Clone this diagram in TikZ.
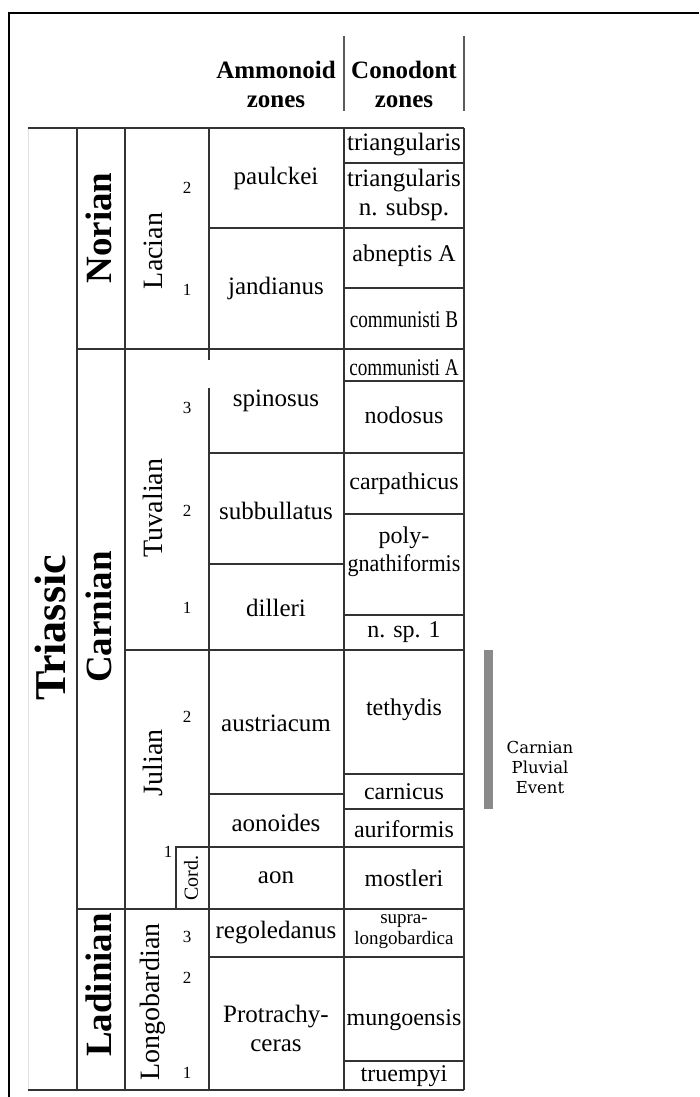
\documentclass[tikz,border=0pt]{standalone}
\usepackage{fontspec}
\setmainfont{Liberation Serif}
\newfontfamily\cpefont{DejaVu Serif}
\usepackage{xcolor}
\definecolor{rule}{HTML}{333333}
\definecolor{cpe}{HTML}{8A8A8A}

\begin{document}
\begin{tikzpicture}[x=1pt,y=-1pt,
		grid/.style={line width=1.4pt, draw=rule},
		zone/.style={font=\fontsize{25}{29}\selectfont, align=center, inner sep=0pt},
		con/.style={zone, font=\fontsize{24}{28}\selectfont},
		stage/.style={font=\fontsize{37}{40}\selectfont\bfseries, rotate=90, inner sep=0pt},
		substage/.style={font=\fontsize{28}{30}\selectfont, rotate=90, inner sep=0pt},
		num/.style={font=\fontsize{17}{19}\selectfont, inner sep=0pt}]
			\useasboundingbox (0,0) rectangle (699,1097);
			\draw[line width=2pt](9,1097)--(9,13)--(699,13);
			% header
			\draw[line width=1.2pt, draw=rule!80](344,36)--(344,111);
			\draw[line width=1.2pt, draw=rule!80](464,36)--(464,111);
			\node[zone, font=\fontsize{25}{29}\selectfont\bfseries](ammhead) at (276,84){Ammonoid\\zones};
			\node[zone, font=\fontsize{25}{29}\selectfont\bfseries](conhead) at (404,84){Conodont\\zones};
			% frame of the table
			\draw[line width=0.6pt, draw=black!12](28,128)--(28,1090);
			\draw[grid](28,128)--(464,128);
			\draw[grid](28,1090)--(464,1090);
			\foreach \x in {77,125,344,464}{
				\draw[grid](\x,128)--(\x,1090);
			}
			\draw[grid](209,128)--(209,360);
			\draw[grid](209,388)--(209,1090);
			% stage and zone limits
			\draw[grid](77,349)--(464,349);
			\draw[grid](125,650)--(464,650);
			\draw[grid](77,909)--(464,909);
			\foreach \y in {228,453,957}{
				\draw[grid](209,\y)--(464,\y);
			}
			\foreach \y in {564,794}{
				\draw[grid](209,\y)--(344,\y);
			}
			\foreach \y in {163,288,381,514,615,774,809,1061}{
				\draw[grid](344,\y)--(464,\y);
			}
			\draw[grid](176,909)--(176,847)--(464,847);
			% left columns
			\node[stage, font=\fontsize{44}{46}\selectfont\bfseries](triassic) at (50,628){Triassic};
			\node[stage](norian) at (99,228){Norian};
			\node[stage](carnian) at (99,617){Carnian};
			\node[stage](ladinian) at (99,985){Ladinian};
			\node[substage](lacian) at (153,251){Lacian};
			\node[substage](tuvalian) at (153,508){Tuvalian};
			\node[substage](julian) at (153,763){Julian};
			\node[substage](longobardian) at (153,1002){Longobardian};
			\node[substage, font=\fontsize{20}{22}\selectfont](cord) at (191,878){Cord.};
			\node[num](lac2) at (187,188){2};
			\node[num](lac1) at (187,290){1};
			\node[num](tuv3) at (187,408){3};
			\node[num](tuv2) at (187,511){2};
			\node[num](tuv1) at (187,608){1};
			\node[num](jul2) at (187,717){2};
			\node[num](jul1) at (168,852){1};
			\node[num](lgb3) at (187,937){3};
			\node[num](lgb2) at (187,978){2};
			\node[num](lgb1) at (187,1073){1};
			% ammonoid zones
			\node[zone](paulckei) at (276,178){paulckei};
			\node[zone](jandianus) at (276,288){jandianus};
			\node[zone](spinosus) at (276,401){spinosus};
			\node[zone](subbullatus) at (276,511){subbullatus};
			\node[zone](dilleri) at (276,608){dilleri};
			\node[zone](austriacum) at (276,723){austriacum};
			\node[zone](aonoides) at (276,823){aonoides};
			\node[zone](aon) at (276,878){aon};
			\node[zone](regoledanus) at (276,933){regoledanus};
			\node[zone](protrachyceras) at (276,1028){Protrachy-\\ceras};
			% conodont zones
			\node[zone](triang) at (404,145){triangularis};
			\node[zone](triangsub) at (404,195){triangularis\\n. subsp.};
			\node[con](abneptis) at (404,256){abneptis A};
			\node[con](commB) at (404,320){\scalebox{0.8}[1]{communisti B}};
			\node[con](commA) at (404,368){\scalebox{0.8}[1]{communisti A}};
			\node[con](nodosus) at (404,415){nodosus};
			\node[con](carpathicus) at (404,484){carpathicus};
			\node[con](polygn) at (404,552){poly-\\\scalebox{0.92}[1]{gnathiformis}};
			\node[con](nsp) at (404,632){n. sp. 1};
			\node[con](tethydis) at (404,710){tethydis};
			\node[con](carnicus) at (404,792){carnicus};
			\node[con](auriformis) at (404,829){auriformis};
			\node[con](mostleri) at (404,878){mostleri};
			\node[con, font=\fontsize{19}{21}\selectfont](supralong) at (404,932){supra-\\longobardica};
			\node[con](mungoensis) at (404,1020){mungoensis};
			\node[con](truempyi) at (404,1076){truempyi};
			% Carnian Pluvial Event
			\fill[cpe](484,650) rectangle (493,809);
			\node[align=center, font=\fontsize{16.5}{20}\selectfont\cpefont, inner sep=0pt](cpe) at (540,767){Carnian\\Pluvial\\Event};
		\end{tikzpicture}
\end{document}
